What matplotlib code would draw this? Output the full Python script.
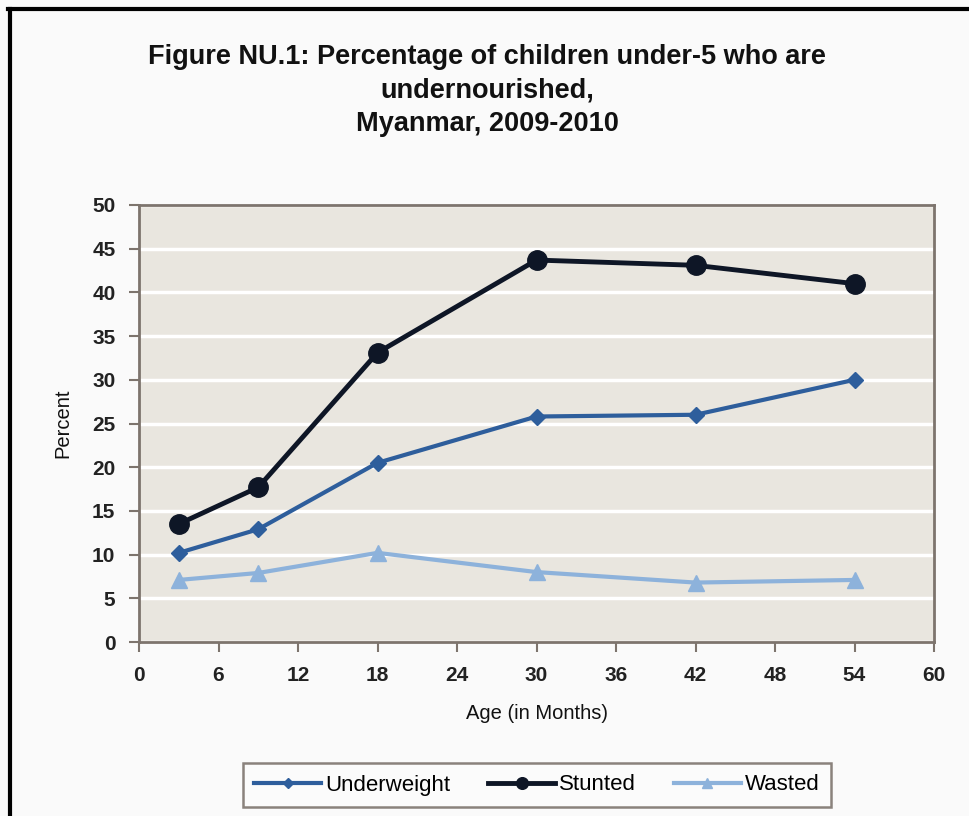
import matplotlib
matplotlib.use('Agg')
import matplotlib.pyplot as plt
from matplotlib.lines import Line2D

# age in months and percentages
age = [3, 9, 18, 30, 42, 54]
underweight = [10.2, 12.9, 20.5, 25.8, 26.0, 30.0]
stunted = [13.5, 17.7, 33.1, 43.7, 43.1, 41.0]
wasted = [7.1, 7.9, 10.2, 8.0, 6.8, 7.1]

xticks = [0, 6, 12, 18, 24, 30, 36, 42, 48, 54, 60]
yticks = [0, 5, 10, 15, 20, 25, 30, 35, 40, 45, 50]

plt.rcParams['font.family'] = ['Liberation Sans', 'DejaVu Sans']

fig = plt.figure(figsize=(9.69, 8.16), dpi=100, facecolor='#fafafa')
W, H = 969.0, 816.0
ax = fig.add_axes([139/W, 1-642/H, (934-139)/W, (642-205)/H])
ax.set_facecolor('#e9e6df')

ax.plot(age, underweight, color='#2e5e9c', lw=3, marker='D', ms=8, label='Underweight', zorder=3)
ax.plot(age, stunted, color='#0e1626', lw=3.5, marker='o', ms=14, label='Stunted', zorder=4)
ax.plot(age, wasted, color='#8db2db', lw=3, marker='^', ms=11, label='Wasted', zorder=2)

ax.set_xlim(0, 60)
ax.set_ylim(0, 50)
ax.set_xticks(xticks)
ax.set_yticks(yticks)
ax.yaxis.grid(True, color='white', lw=2.5)
ax.set_axisbelow(True)
for s in ax.spines.values():
    s.set_color('#7d746d')
    s.set_linewidth(2)
ax.tick_params(axis='both', color='#7d746d', width=1.5, length=7, labelsize=15, pad=10)
for lab in ax.get_xticklabels() + ax.get_yticklabels():
    lab.set_fontweight('bold')
    lab.set_color('#222222')

ax.set_xlabel('Age (in Months)', fontsize=14.5, labelpad=14, color='#111111')
ax.set_ylabel('Percent', fontsize=14.5, labelpad=14, color='#111111')

fig.text(487/W, 1-57/H, 'Figure NU.1: Percentage of children under-5 who are',
         ha='center', va='center', fontsize=19.5, fontweight='bold', color='#111111')
fig.text(487/W, 1-91/H, 'undernourished,', ha='center', va='center',
         fontsize=19.5, fontweight='bold', color='#111111')
fig.text(487/W, 1-124/H, 'Myanmar, 2009-2010', ha='center', va='center',
         fontsize=19.5, fontweight='bold', color='#111111')

leg = fig.legend(loc='center', bbox_to_anchor=(537/W, 1-785/H), ncol=3, fontsize=16,
                 handlelength=3, columnspacing=1.7, handletextpad=0.2,
                 fancybox=False, framealpha=1, borderpad=0.5, markerscale=0.6)
leg.get_frame().set_edgecolor('#8a827c')
leg.get_frame().set_linewidth(1.8)
leg.get_frame().set_facecolor('#fbfbfb')

# black frame on top and left of the scanned picture
fig.add_artist(Line2D([8/W, 1], [1-9/H, 1-9/H], color='black', lw=3, transform=fig.transFigure))
fig.add_artist(Line2D([10/W, 10/W], [0, 1-9/H], color='black', lw=3, transform=fig.transFigure))

fig.savefig('out.png', dpi=100, facecolor=fig.get_facecolor())
